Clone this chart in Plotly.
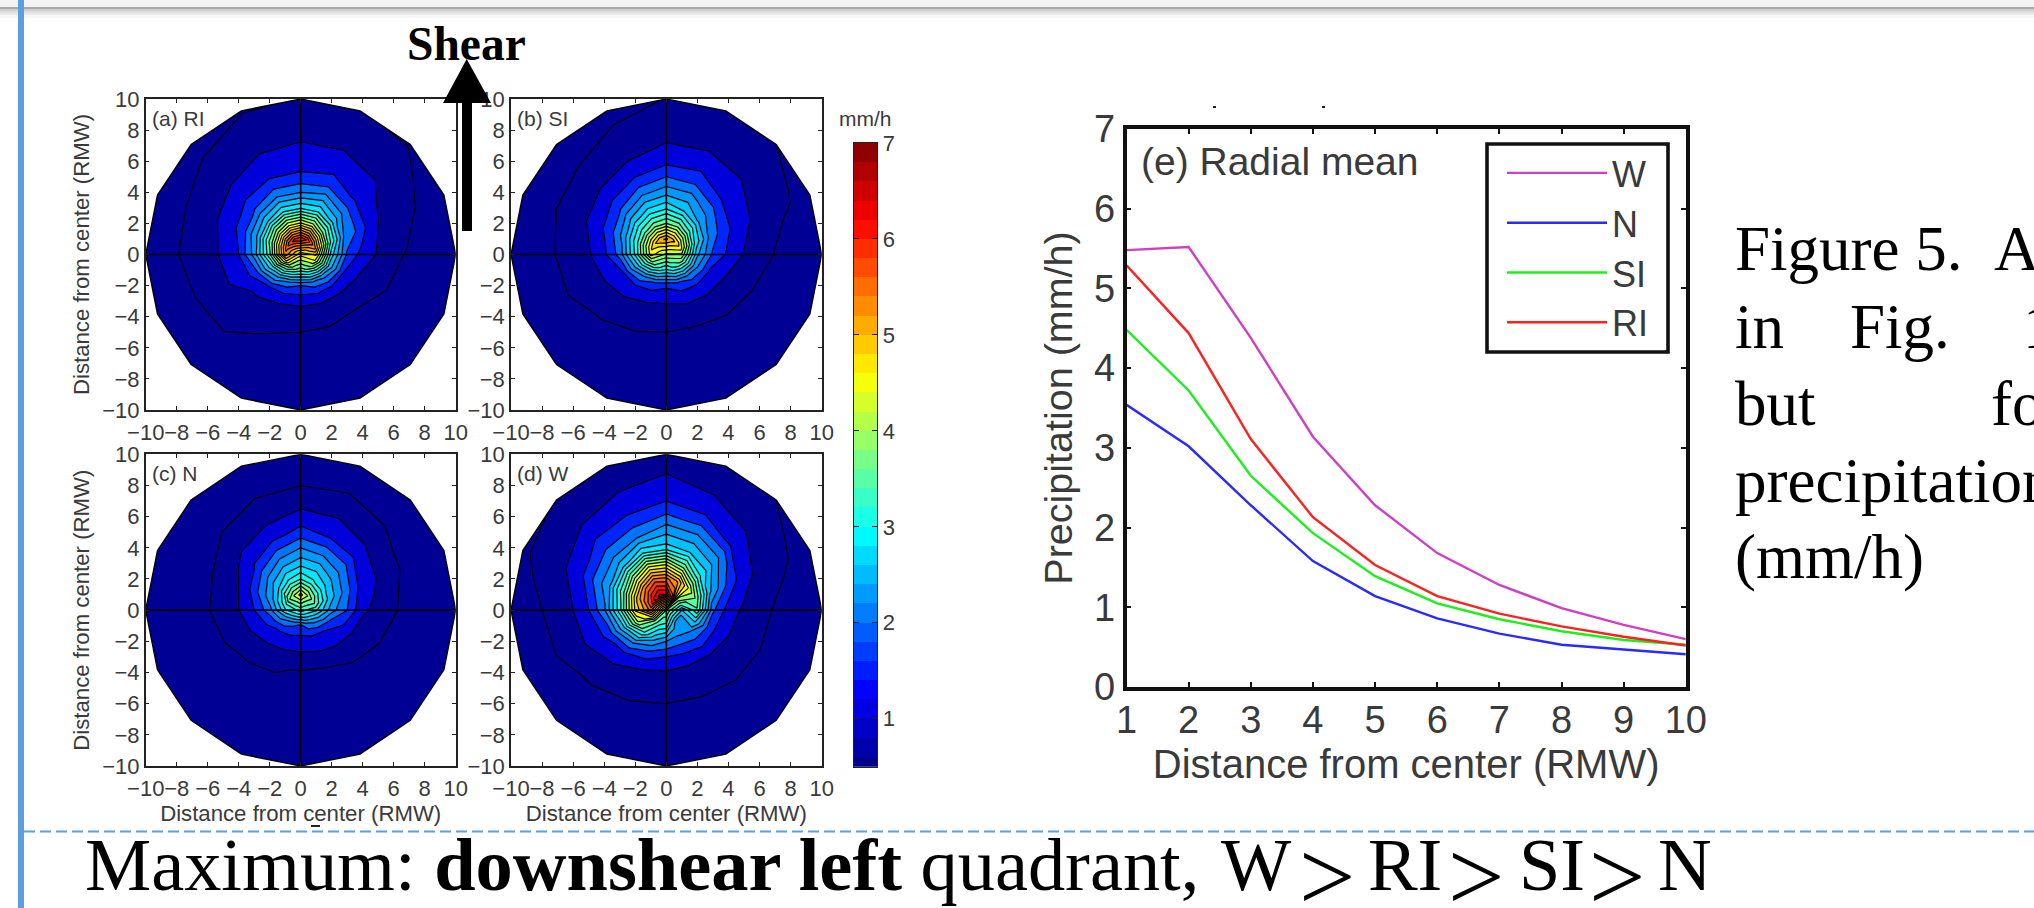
import numpy as np
import plotly.graph_objects as go

W, H = 2034, 908

# ---- data ----
radii = [0.01, 1, 2, 3, 4, 5, 6, 7, 8, 9, 10]
azimuth_deg = [22.5 * k for k in range(17)]  # E, ENE, NE ... counter-clockwise, closes at E
contour_levels = [0.5, 1, 1.5, 2] + [2.25 + 0.25 * i for i in range(20)]
centre_values = {"RI": 4.6, "SI": 4.2, "N": 3.6, "W": 4.0}

RI_field = [
 [4.8,5.3,5.6,6.0,6.2,6.1,5.9,5.6,5.4,4.8,4.2,3.8,3.6,3.8,4.1,4.5],
 [3.1,3.6,4.0,4.4,4.55,4.5,4.3,4.0,3.7,3.2,2.8,2.4,2.25,2.4,2.6,2.9],
 [2.2,2.5,2.9,3.2,3.2,3.2,3.0,2.8,2.6,2.25,1.85,1.7,1.65,1.7,1.8,2.0],
 [1.8,2.2,2.35,2.6,2.5,2.5,2.3,2.15,2.0,1.6,1.45,1.25,1.2,1.2,1.25,1.45],
 [1.45,1.65,1.95,2.1,2.05,2.05,2.0,1.7,1.6,1.5,1.2,1.05,1.0,1.0,1.0,1.2],
 [1.1,1.3,1.7,1.85,1.8,1.75,1.6,1.45,1.3,1.25,1.1,0.95,0.9,0.9,0.9,1.0],
 [0.95,1.2,1.45,1.55,1.55,1.5,1.3,1.2,1.15,1.05,1.0,0.85,0.8,0.8,0.8,0.85],
 [0.85,1.0,1.25,1.35,1.35,1.3,1.15,1.0,0.98,0.9,0.85,0.75,0.72,0.72,0.72,0.75],
 [0.75,0.9,1.08,1.15,1.15,1.1,0.98,0.9,0.85,0.8,0.75,0.7,0.65,0.65,0.65,0.68],
 [0.65,0.8,0.98,1.02,1.02,0.98,0.9,0.8,0.72,0.7,0.65,0.6,0.58,0.58,0.58,0.6],
]
SI_field = [
 [4.2,4.6,4.9,5.1,5.3,5.2,5.0,4.8,4.6,4.1,3.7,3.4,3.2,3.4,3.6,3.9],
 [2.8,3.2,3.6,3.9,4.0,3.9,3.7,3.5,3.3,2.9,2.5,2.2,2.05,2.2,2.4,2.6],
 [2.2,2.45,2.7,3.0,3.2,3.1,2.9,2.6,2.35,2.0,1.75,1.6,1.55,1.65,1.75,1.9],
 [1.9,2.1,2.35,2.6,2.65,2.55,2.3,2.1,1.9,1.6,1.45,1.3,1.25,1.3,1.38,1.5],
 [1.48,1.75,2.0,2.2,2.25,2.1,1.95,1.7,1.45,1.3,1.2,1.05,1.0,1.0,1.1,1.2],
 [1.2,1.45,1.75,1.9,1.85,1.65,1.5,1.35,1.2,1.1,0.98,0.9,0.85,0.85,0.9,1.0],
 [0.98,1.2,1.45,1.55,1.55,1.35,1.25,1.1,1.02,0.98,0.88,0.8,0.75,0.75,0.8,0.85],
 [0.85,1.05,1.25,1.3,1.3,1.15,1.0,0.95,0.9,0.85,0.78,0.7,0.68,0.68,0.7,0.75],
 [0.75,0.97,1.1,1.12,1.12,1.0,0.92,0.85,0.78,0.75,0.7,0.64,0.6,0.6,0.62,0.66],
 [0.65,0.85,1.0,1.02,1.01,0.9,0.82,0.72,0.68,0.65,0.6,0.56,0.54,0.54,0.55,0.58],
]
N_field = [
 [3.3,3.7,4.0,4.3,4.6,4.3,4.0,3.5,3.2,2.8,2.5,2.3,2.2,2.4,2.6,2.9],
 [2.6,2.9,3.1,3.3,3.5,3.3,3.0,2.7,2.4,2.1,1.9,1.8,1.75,1.8,1.95,2.2],
 [2.25,2.45,2.65,2.85,2.9,2.75,2.5,2.25,2.0,1.7,1.5,1.4,1.38,1.45,1.6,1.85],
 [1.6,2.0,2.3,2.4,2.5,2.3,2.05,1.6,1.5,1.3,1.15,1.05,0.95,1.0,1.15,1.3],
 [1.35,1.6,1.85,2.0,2.1,1.85,1.65,1.3,1.15,1.05,0.95,0.9,0.85,0.88,0.95,1.1],
 [1.05,1.25,1.45,1.65,1.7,1.45,1.25,1.02,0.98,0.9,0.82,0.78,0.75,0.78,0.82,0.9],
 [0.85,0.98,1.1,1.25,1.3,1.15,1.02,0.88,0.82,0.78,0.72,0.7,0.66,0.68,0.72,0.78],
 [0.75,0.85,0.95,1.02,1.0,0.95,0.88,0.78,0.72,0.68,0.64,0.6,0.58,0.6,0.63,0.68],
 [0.65,0.72,0.8,0.85,0.82,0.8,0.75,0.68,0.62,0.6,0.56,0.54,0.52,0.53,0.56,0.6],
 [0.56,0.62,0.68,0.72,0.7,0.68,0.64,0.58,0.55,0.53,0.52,0.52,0.52,0.52,0.52,0.52],
]
W_field = [
 [3.0,3.6,4.2,5.8,6.5,6.6,6.4,6.0,5.6,4.8,3.9,3.5,3.4,2.9,2.6,2.7],
 [3.7,4.0,4.5,5.2,5.6,5.7,5.4,5.1,4.8,4.2,3.5,2.8,2.5,2.4,2.5,3.0],
 [2.3,2.8,3.3,3.9,4.4,4.5,4.1,3.7,3.4,2.9,2.5,2.15,2.0,2.0,2.1,2.1],
 [1.75,2.3,2.8,3.0,3.1,3.2,2.9,2.7,2.45,2.1,1.8,1.55,1.45,1.4,1.5,1.6],
 [1.4,1.9,2.4,2.6,2.7,2.5,2.4,2.3,2.0,1.7,1.45,1.2,1.15,1.15,1.2,1.3],
 [1.2,1.5,1.85,2.2,2.3,2.15,2.1,1.85,1.5,1.4,1.2,1.05,1.0,1.0,1.05,1.1],
 [0.95,1.3,1.55,1.75,2.0,1.8,1.75,1.5,1.3,1.1,0.95,0.88,0.85,0.85,0.9,0.92],
 [0.88,1.05,1.3,1.5,1.65,1.55,1.4,1.25,1.0,0.95,0.85,0.78,0.75,0.75,0.78,0.82],
 [0.8,0.95,1.1,1.28,1.45,1.3,1.2,1.05,0.92,0.85,0.78,0.7,0.66,0.66,0.7,0.75],
 [0.7,0.85,1.0,1.15,1.25,1.15,1.02,0.95,0.8,0.75,0.7,0.62,0.58,0.58,0.6,0.65],
]

distance = [1, 2, 3, 4, 5, 6, 7, 8, 9, 10]
mean_W  = [5.48, 5.52, 4.38, 3.14, 2.28, 1.68, 1.28, 0.99, 0.78, 0.60]
mean_N  = [3.54, 3.02, 2.28, 1.58, 1.14, 0.86, 0.67, 0.53, 0.47, 0.41]
mean_SI = [4.48, 3.72, 2.65, 1.93, 1.39, 1.05, 0.85, 0.70, 0.59, 0.53]
mean_RI = [5.29, 4.44, 3.11, 2.13, 1.53, 1.14, 0.92, 0.76, 0.63, 0.52]

colorbar_bands = [0.5 + 0.2 * i for i in range(33)]
colorbar_ticks = [1, 2, 3, 4, 5, 6, 7]
panel_ticks = [-10, -8, -6, -4, -2, 0, 2, 4, 6, 8, 10]
# ------------------------------------

SANS = "Liberation Sans"
SERIF = "Liberation Serif"
GREY = "#3a3a3a"
BLUE = "#5b9fdc"


def fx(p):
    return p / W


def fy(p):
    return 1 - p / H


JET = [[0, "#00008f"], [0.125, "#0000ff"], [0.375, "#00ffff"], [0.625, "#ffff00"],
       [0.875, "#ff0000"], [1, "#800000"]]


def jet_rgb(t):
    stops = [0, 0.125, 0.375, 0.625, 0.875, 1]
    r = np.interp(t, stops, [0, 0, 0, 255, 255, 128])
    g = np.interp(t, stops, [0, 0, 255, 255, 0, 0])
    b = np.interp(t, stops, [143, 255, 255, 0, 0, 0])
    return f"rgb({int(r)},{int(g)},{int(b)})"


# index-space colour scale: one stop for each contour interval, coloured by its lower bound
n_lv = len(contour_levels) - 1
index_scale = []
for i in range(n_lv):
    c = jet_rgb((contour_levels[i] + 0.05 - 0.5) / 6.5)
    index_scale += [[i / n_lv, c], [(i + 1) / n_lv, c]]

fig = go.Figure()

panels = [
    ("a", "(a) RI", "RI", RI_field, (145.7, 455.7), (99, 410), True, False),
    ("b", "(b) SI", "SI", SI_field, (511, 821.7), (99, 410), False, False),
    ("c", "(c) N", "N", N_field, (145.7, 455.7), (454.3, 766), True, True),
    ("d", "(d) W", "W", W_field, (511, 821.7), (454.3, 766), False, True),
]

layout = dict(
    width=W, height=H, margin=dict(l=0, r=0, t=0, b=0, pad=0, autoexpand=False),
    paper_bgcolor="white", plot_bgcolor="white", showlegend=True,
    font=dict(family=SANS, color=GREY),
)
annotations = []
shapes = []


def text(px, py, s, size, family=SANS, color=GREY, anchor="left", angle=0):
    annotations.append(dict(x=fx(px), y=fy(py), xref="paper", yref="paper", text=s, showarrow=False,
                            xanchor=anchor, yanchor="middle", textangle=angle,
                            font=dict(size=size, family=family, color=color), borderpad=0))


theta = np.deg2rad(azimuth_deg)
for idx, (pid, label, key, field, xs, ys, has_y, has_x) in enumerate(panels):
    n = idx + 1
    sfx = "" if n == 1 else str(n)
    rows = [[centre_values[key]] * 16] + field
    z = np.array(rows, dtype=float)
    z = np.hstack([z, z[:, :1]]).T  # [b][a]
    zi = np.interp(z, contour_levels, np.arange(len(contour_levels)))
    rr = np.array(radii)
    X = np.outer(np.cos(theta), rr)
    Y = np.outer(np.sin(theta), rr)
    fig.add_trace(go.Carpet(
        carpet=pid, a=radii, b=azimuth_deg, x=X.tolist(), y=Y.tolist(),
        xaxis="x" + sfx, yaxis="y" + sfx,
        aaxis=dict(showgrid=False, minorgridcount=0, showticklabels="none", showline=False, smoothing=0,
                   startline=False, endline=True, endlinecolor="black", endlinewidth=1.4, tickmode="array", tickvals=[]),
        baxis=dict(showgrid=False, minorgridcount=0, showticklabels="none", showline=False, smoothing=0,
                   startline=False, endline=False, tickmode="array", tickvals=[])))
    fig.add_trace(go.Contourcarpet(
        carpet=pid, a=radii, b=azimuth_deg, z=zi.tolist(), xaxis="x" + sfx, yaxis="y" + sfx,
        autocontour=False, contours=dict(start=1, end=len(contour_levels) - 1, size=1, coloring="fill", showlines=True),
        line=dict(color="black", width=1.2, smoothing=0),
        colorscale=index_scale, zmin=0, zmax=n_lv, autocolorscale=False, showscale=False, showlegend=False))
    for xv, yv in (([-10, 10], [0, 0]), ([0, 0], [-10, 10])):
        fig.add_trace(go.Scatter(x=xv, y=yv, mode="lines", line=dict(color="black", width=1.6), xaxis="x" + sfx,
                                 yaxis="y" + sfx, showlegend=False, hoverinfo="skip"))
    axis_common = dict(range=[-10, 10], tickmode="array", tickvals=panel_ticks, ticks="inside", ticklen=4, tickwidth=1,
                       tickcolor="#222", showline=True, linecolor="#222", linewidth=1.5, mirror="ticks", showgrid=False,
                       zeroline=False, tickfont=dict(size=22, family=SANS, color=GREY), tickangle=0, automargin=False)
    layout["xaxis" + sfx] = dict(axis_common, domain=[fx(xs[0]), fx(xs[1])], anchor="y" + sfx, ticklabelstandoff=2,
                                 title=dict(text="Distance from center (RMW)" if has_x else "", standoff=0,
                                            font=dict(size=22.2, family=SANS, color=GREY)))
    layout["yaxis" + sfx] = dict(axis_common, domain=[fy(ys[1]), fy(ys[0])], anchor="x" + sfx,
                                 title=dict(text="Distance from center (RMW)" if has_y else "", standoff=6,
                                            font=dict(size=22.2, family=SANS, color=GREY)))
    text(xs[0] + 5, ys[0] + 19, label, 21)

# colour bar panel, drawn as a heatmap on its own axes
fig.add_trace(go.Heatmap(x=[0], y=colorbar_bands, z=[[v] for v in colorbar_bands], colorscale=JET, zmin=0.5, zmax=7,
                         showscale=False, xaxis="x5", yaxis="y5", showlegend=False, hoverinfo="skip"))
layout["xaxis5"] = dict(domain=[fx(854), fx(877.3)], range=[-0.5, 0.5], anchor="y5", showticklabels=False, ticks="",
                        showline=True, mirror=True, linecolor="#222", linewidth=1.3, showgrid=False, zeroline=False,
                        automargin=False)
layout["yaxis5"] = dict(domain=[fy(766.7), fy(143)], range=[0.5, 7], anchor="x5", side="right", tickmode="array",
                        tickvals=colorbar_ticks, ticks="inside", ticklen=5, tickwidth=1.2, tickcolor="#222",
                        showline=True, mirror="ticks", linecolor="#222", linewidth=1.3, showgrid=False, zeroline=False,
                        tickfont=dict(size=22, family=SANS, color=GREY), automargin=False)
text(865, 119, "mm/h", 21, anchor="center")

# radial-mean line chart
series = [("W", mean_W, "#cf3fc6"), ("N", mean_N, "#2a2aff"), ("SI", mean_SI, "#1cf01c"), ("RI", mean_RI, "#ff2020")]
for name, vals, col in series:
    fig.add_trace(go.Scatter(x=distance, y=vals, name=name, mode="lines", line=dict(color=col, width=2.4),
                             xaxis="x6", yaxis="y6"))
e_axis = dict(ticks="inside", ticklen=5, tickwidth=1.8, tickcolor="#111", showline=True, linecolor="#111", linewidth=3.6,
              mirror="ticks", showgrid=False, zeroline=False, tickfont=dict(size=38, family=SANS, color=GREY), tickangle=0,
              automargin=False)
layout["xaxis6"] = dict(e_axis, domain=[fx(1126.5), fx(1685.8)], range=[1, 10], anchor="y6", tickmode="array", tickvals=distance,
                        ticklabelstandoff=-3,
                        title=dict(text="Distance from center (RMW)", standoff=11, font=dict(size=40, family=SANS, color=GREY)))
layout["yaxis6"] = dict(e_axis, domain=[fy(687), fy(129)], range=[0, 7], anchor="x6", tickmode="array",
                        tickvals=[0, 1, 2, 3, 4, 5, 6, 7],
                        title=dict(text="Precipitation (mm/h)", standoff=10, font=dict(size=39.5, family=SANS, color=GREY)))
layout["legend"] = dict(x=fx(1502), y=fy(143), xanchor="left", yanchor="top", bgcolor="rgba(0,0,0,0)", borderwidth=0,
                        font=dict(size=36, family=SANS, color=GREY), itemwidth=100, tracegroupgap=0)
shapes.append(dict(type="rect", xref="paper", yref="paper", x0=fx(1487), x1=fx(1668), y0=fy(352), y1=fy(144),
                   line=dict(color="#111", width=3.6), fillcolor="rgba(0,0,0,0)", layer="above"))
text(1140, 161, "(e) Radial mean", 39)

# page furniture of the slide
for i, (a, b, c) in enumerate([(0, 7, "#f3f3f3"), (7, 9, "#a9a9a9"), (9, 11, "#cfcfcf"), (11, 13, "#dedede"),
                               (13, 15, "#ebebeb"), (15, 18, "#f6f6f6")]):
    shapes.append(dict(type="rect", xref="paper", yref="paper", x0=0, x1=1, y0=fy(b), y1=fy(a), fillcolor=c,
                       line=dict(width=0), layer="above"))
shapes.append(dict(type="rect", xref="paper", yref="paper", x0=fx(18), x1=fx(24), y0=0, y1=1, fillcolor=BLUE,
                   line=dict(width=0), layer="above"))
shapes.append(dict(type="line", xref="paper", yref="paper", x0=fx(24), x1=1, y0=fy(831.5), y1=fy(831.5),
                   line=dict(color=BLUE, width=2, dash="11px,5px"), layer="above"))
# shear arrow
shapes.append(dict(type="path", xref="paper", yref="paper", layer="above", fillcolor="black", line=dict(width=0),
                   path=(f"M {fx(462)} {fy(231)} L {fx(472)} {fy(231)} L {fx(472)} {fy(103)} L {fx(491)} {fy(103)} "
                         f"L {fx(466.7)} {fy(59)} L {fx(443)} {fy(103)} L {fx(462)} {fy(103)} Z")))
# stray specks left over in the slide image
for sx, sy, sw, sh in [(1213, 106, 3, 2), (1322, 106, 3, 2), (311, 825, 9, 2)]:
    shapes.append(dict(type="rect", xref="paper", yref="paper", x0=fx(sx), x1=fx(sx + sw), y0=fy(sy + sh), y1=fy(sy),
                       fillcolor="#222", line=dict(width=0), layer="above"))

text(466, 44, "<b>Shear</b>", 47.5, SERIF, "black", "center")

for px, base, word in [(1734, 271, "Figure 5."), (1993, 271, "A")]:
    text(px, base - 22, word, 63, SERIF, "black")
for px, base, word in [(1734, 347, "in"), (1849, 347, "Fig."), (2022, 347, "1"),
                       (1734, 424, "but"), (1990, 424, "fo"), (1734, 501, "precipitation"), (1734, 577, "(mm/h)")]:
    text(px, base - 20, word, 63, SERIF, "black")

text(84, 865, "Maximum: <b>downshear left</b> quadrant,", 74.4, SERIF, "black")
for px, word in [(1220, "W"), (1367, "RI"), (1518, "SI"), (1657, "N")]:
    text(px, 865, word, 74.4, SERIF, "black")
for px in (1298, 1447, 1588):
    text(px, 876, "&gt;", 100, SERIF, "black")

layout["annotations"] = annotations
layout["shapes"] = shapes
fig.update_layout(**layout)
fig.write_html("out.html", config={"displayModeBar": False},
               post_script="document.body.style.margin='0';document.body.style.overflow='hidden';")
